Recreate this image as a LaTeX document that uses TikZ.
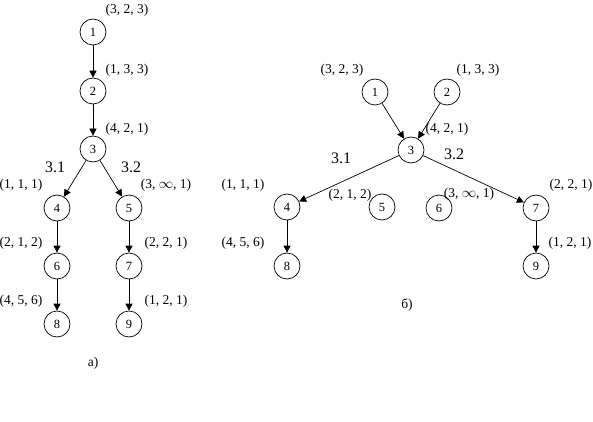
\documentclass[tikz,border=0pt]{standalone}
\usepackage{fontspec}
\setmainfont{Liberation Serif}
\usetikzlibrary{arrows.meta}
\tikzset{
  vtx/.style={circle,draw,line width=0.7pt,minimum size=26pt,inner sep=0pt,font=\fontsize{12.5}{13}\selectfont},
  lbl/.style={font=\fontsize{13.5}{14}\selectfont,inner sep=0pt},
  brn/.style={font=\fontsize{16}{17}\selectfont,inner sep=0pt},
  edge/.style={line width=0.7pt,-{Triangle[length=7pt,width=7pt]}},
}
\begin{document}
\begin{tikzpicture}[x=1pt,y=-1pt]
\useasboundingbox (0,0) rectangle (593,422);
% ---- a) ----
\node[vtx] (a1) at (93,32) {1};
\node[vtx] (a2) at (93,91) {2};
\node[vtx] (a3) at (93,149) {3};
\node[vtx] (a4) at (57,208) {4};
\node[vtx] (a5) at (129,208) {5};
\node[vtx] (a6) at (57,266) {6};
\node[vtx] (a7) at (129,266) {7};
\node[vtx] (a8) at (57,324) {8};
\node[vtx] (a9) at (129,324) {9};
\draw[edge] (a1) -- (a2);
\draw[edge] (a2) -- (a3);
\draw[edge] (a3) -- (a4);
\draw[edge] (a3) -- (a5);
\draw[edge] (a4) -- (a6);
\draw[edge] (a6) -- (a8);
\draw[edge] (a5) -- (a7);
\draw[edge] (a7) -- (a9);
\node[lbl] (la1) at (127,10) {(3, 2, 3)};
\node[lbl] (la2) at (127,70) {(1, 3, 3)};
\node[lbl] (la3) at (127,129) {(4, 2, 1)};
\node[brn] (la31) at (55,167) {3.1};
\node[brn] (la32) at (131,167) {3.2};
\node[lbl] (la4) at (21,185) {(1, 1, 1)};
\node[lbl] (la5) at (166,185) {(3, $\infty$, 1)};
\node[lbl] (la6) at (21,243) {(2, 1, 2)};
\node[lbl] (la7) at (166,243) {(2, 2, 1)};
\node[lbl] (la8) at (21,301) {(4, 5, 6)};
\node[lbl] (la9) at (166,301) {(1, 2, 1)};
\node[lbl] (capa) at (93,363) {a)};
% ---- b) ----
\node[vtx] (b1) at (375,92) {1};
\node[vtx] (b2) at (447,92) {2};
\node[vtx] (b3) at (411,150) {3};
\node[vtx] (b4) at (287,207) {4};
\node[vtx] (b5) at (382,207) {5};
\node[vtx] (b6) at (439,208) {6};
\node[vtx] (b7) at (536,208) {7};
\node[vtx] (b8) at (287,266) {8};
\node[vtx] (b9) at (536,266) {9};
\draw[edge] (b1) -- (b3);
\draw[edge] (b2) -- (b3);
\draw[edge] (b3) -- (b4);
\draw[edge] (b3) -- (b7);
\draw[edge] (b4) -- (b8);
\draw[edge] (b7) -- (b9);
\node[lbl] (lb1) at (342,70) {(3, 2, 3)};
\node[lbl] (lb2) at (478,70) {(1, 3, 3)};
\node[lbl] (lb3) at (447,129) {(4, 2, 1)};
\node[brn] (lb31) at (341,158) {3.1};
\node[brn] (lb32) at (454,154) {3.2};
\node[lbl] (lb4) at (243,185) {(1, 1, 1)};
\node[lbl] (lb5) at (350,195) {(2, 1, 2)};
\node[lbl] (lb6) at (469,194) {(3, $\infty$, 1)};
\node[lbl] (lb7) at (571,185) {(2, 2, 1)};
\node[lbl] (lb8) at (243,243) {(4, 5, 6)};
\node[lbl] (lb9) at (570,243) {(1, 2, 1)};
\node[lbl] (capb) at (407,305) {б)};
\end{tikzpicture}
\end{document}
